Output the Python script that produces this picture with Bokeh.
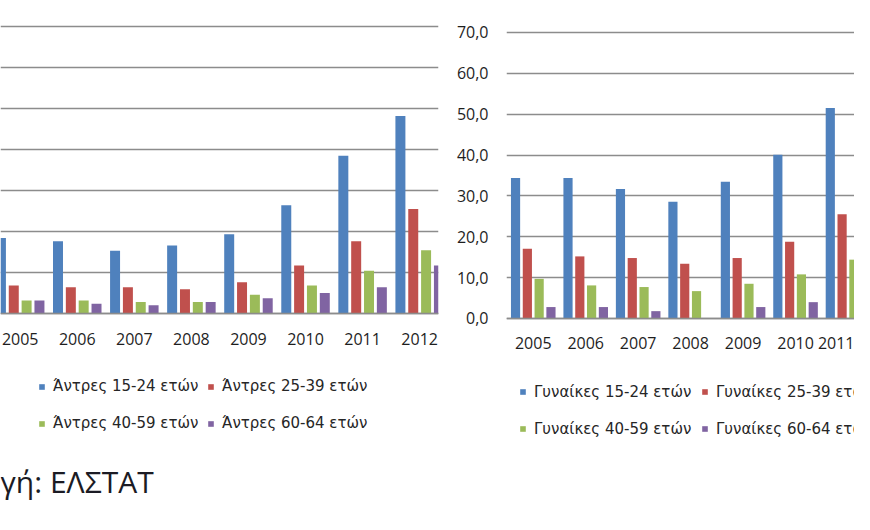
import math
from bokeh.plotting import figure
from bokeh.models import (ColumnDataSource, FixedTicker, Range1d, Legend,
                          LegendItem, Label, Grid)
from bokeh.layouts import row
from bokeh.transform import dodge
from bokeh.embed import file_html
from bokeh.resources import INLINE

# ---------------- data ----------------
men_years = [2005, 2006, 2007, 2008, 2009, 2010, 2011, 2012]
men_year_labels = ["2005", "2006", "2007", "2008", "2009", "2010", "2011", "2012"]
men_15_24 = [18.4, 17.6, 15.3, 16.6, 19.3, 26.4, 38.5, 48.2]
men_25_39 = [6.8, 6.4, 6.4, 5.9, 7.6, 11.7, 17.6, 25.5]
men_40_59 = [3.2, 3.2, 2.8, 2.8, 4.6, 6.8, 10.4, 15.4]
men_60_64 = [3.2, 2.4, 2.0, 2.8, 3.7, 5.0, 6.4, 11.7]

women_years = [2005, 2006, 2007, 2008, 2009, 2010, 2011]
women_year_labels = ["2005", "2006", "2007", "2008", "2009", "2010", "2011"]
women_15_24 = [34.4, 34.4, 31.7, 28.6, 33.5, 40.1, 51.5]
women_25_39 = [17.1, 15.2, 14.8, 13.4, 14.8, 18.8, 25.5]
women_40_59 = [9.7, 8.1, 7.7, 6.7, 8.5, 10.8, 14.4]
women_60_64 = [2.8, 2.8, 1.8, float("nan"), 2.8, 4.0, 5.0]

men_labels = ["Άντρες 15-24 ετών", "Άντρες 25-39 ετών",
              "Άντρες 40-59 ετών", "Άντρες 60-64 ετών"]
women_labels = ["Γυναίκες 15-24 ετών", "Γυναίκες 25-39 ετών",
                "Γυναίκες 40-59 ετών", "Γυναίκες 60-64 ετών"]

y_ticks = [0, 10, 20, 30, 40, 50, 60, 70]
y_tick_labels = ["0,0", "10,0", "20,0", "30,0", "40,0", "50,0", "60,0", "70,0"]

source_text = "γή: ΕΛΣΤΑΤ"

# ---------------- style ----------------
COLORS = ["#4F81BD", "#C0504D", "#9BBB59", "#8064A2"]
OFFSETS = [-0.3375, -0.1125, 0.1125, 0.3375]
BAR_W = 0.175
GRID_COLOR = "#8c8c8c"
TEXT_COLOR = "#1e1e1e"
AX_FONT = "Open Sans"
AX_SIZE = "16px"
LEG_FONT = "DejaVu Sans"
LEG_SIZE = "15px"
H = 514
TOP = 9


def style_common(p, years, labels):
    p.xaxis.fixed_location = 0
    p.xaxis.ticker = FixedTicker(ticks=years)
    p.xaxis.major_label_overrides = {y: l for y, l in zip(years, labels)}
    p.xaxis.major_tick_line_color = None
    p.xaxis.minor_tick_line_color = None
    p.xaxis.axis_line_color = GRID_COLOR
    p.xaxis.axis_line_width = 1.5
    p.xaxis.major_label_standoff = 13
    p.xaxis.major_label_text_font = AX_FONT
    p.xaxis.major_label_text_font_size = AX_SIZE
    p.xaxis.major_label_text_color = TEXT_COLOR
    p.xgrid.visible = False
    if len(p.ygrid) == 0:
        p.add_layout(Grid(dimension=1, ticker=FixedTicker(ticks=y_ticks)), "center")
    p.ygrid.ticker = FixedTicker(ticks=y_ticks)
    p.ygrid.grid_line_color = GRID_COLOR
    p.ygrid.grid_line_width = 1.4
    p.outline_line_color = None
    p.background_fill_color = "white"
    p.border_fill_color = "white"


def add_bars(p, src, cols):
    rs = []
    for col, off, c in zip(cols, OFFSETS, COLORS):
        r = p.vbar(x=dodge("year", off), top=col, width=BAR_W, bottom=0,
                   source=src, fill_color=c, line_color=None)
        rs.append(r)
    return rs


def make_legend(rs, labels, loc, label_width):
    return Legend(items=[LegendItem(label=l, renderers=[r]) for l, r in zip(labels, rs)],
                  location=loc, orientation="horizontal", ncols=2,
                  glyph_width=7, glyph_height=7, label_standoff=8, spacing=2,
                  label_height=35, label_width=label_width, padding=0, margin=0,
                  border_line_color=None, background_fill_alpha=0,
                  label_text_font=LEG_FONT, label_text_font_size=LEG_SIZE,
                  label_text_color="#262626")


# ---------------- left panel (men) ----------------
men_src = ColumnDataSource(dict(year=men_years, a=men_15_24, b=men_25_39,
                                c=men_40_59, d=men_60_64))
p1 = figure(width=440, height=H, x_range=Range1d(2004.655, 2012.33),
            y_range=Range1d(-49.024, 74.146), output_backend="svg",
            toolbar_location=None, min_border_left=0, min_border_right=2,
            min_border_top=TOP, min_border_bottom=0, y_axis_location=None)
style_common(p1, men_years, men_year_labels)
r1 = add_bars(p1, men_src, ["a", "b", "c", "d"])
p1.add_layout(make_legend(r1, men_labels, (38, 73.5), 152), "center")
p1.add_layout(Label(x=2004.655, y=-41.0, text=source_text, text_font="Open Sans",
                    text_font_size="30px", text_baseline="alphabetic",
                    text_align="left", text_color="#1b1b24"))

# ---------------- right panel (women) ----------------
women_src = ColumnDataSource(dict(year=women_years, a=women_15_24, b=women_25_39,
                                  c=women_40_59, d=women_60_64))
p2 = figure(width=414, height=H, x_range=Range1d(2004.49, 2011.124),
            y_range=Range1d(-47.972, 75.629), output_backend="svg",
            toolbar_location=None, min_border_left=66, min_border_right=0,
            min_border_top=TOP, min_border_bottom=0)
style_common(p2, women_years, women_year_labels)
p2.yaxis.ticker = FixedTicker(ticks=y_ticks)
p2.yaxis.major_label_overrides = {t: l for t, l in zip(y_ticks, y_tick_labels)}
p2.yaxis.axis_line_color = None
p2.yaxis.major_tick_line_color = None
p2.yaxis.minor_tick_line_color = None
p2.yaxis.major_label_standoff = 12
p2.yaxis.major_label_text_font = AX_FONT
p2.yaxis.major_label_text_font_size = AX_SIZE
p2.yaxis.major_label_text_color = TEXT_COLOR
r2 = add_bars(p2, women_src, ["a", "b", "c", "d"])
p2.add_layout(make_legend(r2, women_labels, (13, 67.8), 165), "center")

layout = row(p1, p2)
open("out.html", "w", encoding="utf-8").write(file_html(layout, INLINE, title="chart"))
